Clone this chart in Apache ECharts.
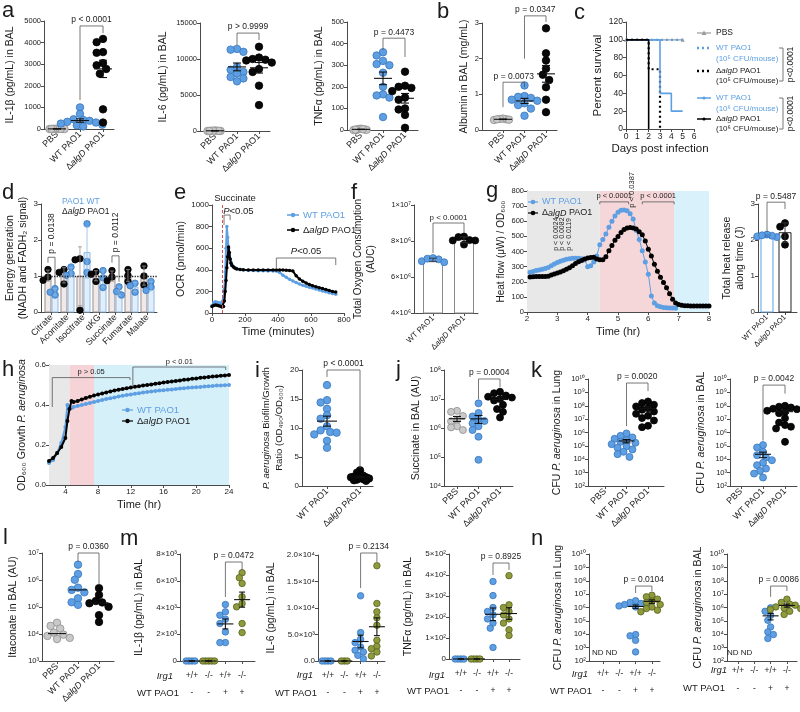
<!DOCTYPE html>
<html><head><meta charset="utf-8"><title>Figure</title>
<script src="https://cdn.jsdelivr.net/npm/echarts@6.0.0/dist/echarts.min.js"></script>
<style>html,body{margin:0;padding:0;background:#fff;}#chart{width:800px;height:712px;}</style>
</head><body><div id="chart"></div>
<script>
// ===================== DATA =====================
const catsPAO = ['PBS', 'WT PAO1', 'Δ{i|algD} PAO1'];
const catsWTalg = ['WT PAO1', 'Δ{i|algD} PAO1'];
const irg1Row = ['+/+', '-/-', '+/+', '-/-'];
const pao1Row = ['-', '-', '+', '+'];

// a
const il1bPBS = [8, 3, 12, 0, 6, 10, 2, 7, 5];
const il1bWT = [1000, 700, 450, 420, 380, 330, 300, 250, 200, 170, 120];
const il1bAlgD = [4170, 4020, 3560, 3530, 3050, 2950, 2780, 2560, 910, 300];
const il6PBS = [30, 60, 10, 0, 40, 20, 50, 15];
const il6WT = [11400, 11300, 11000, 8900, 8500, 8200, 8000, 7500, 7300, 6900];
const il6AlgD = [11700, 10200, 10000, 9900, 9800, 9500, 8600, 8200, 6300, 3600];
const tnfPBS = [2, 5, 1, 0, 3, 6, 2, 4];
const tnfWT = [360, 345, 320, 305, 300, 265, 200, 165, 160, 150, 60];
const tnfAlgD = [270, 205, 200, 195, 180, 150, 140, 100, 95, 70, 10];
// b
const albPBS = [0.28, 0.30, 0.32, 0.29, 0.31, 0.30];
const albWT = [1.25, 0.95, 0.93, 0.90, 0.85, 0.82, 0.75, 0.70, 0.60, 0.40];
const albAlgD = [2.85, 2.15, 1.95, 1.72, 1.55, 1.40, 1.20, 0.85, 0.50];
// c survival (day of event, percent after event)
const survPBSDay = [0, 5], survPBSPct = [100, 100];
const survWT5Day = [0, 5], survWT5Pct = [100, 100];
const survAlg5Day = [0, 2, 3], survAlg5Pct = [100, 67, 0];
const survWT6Day = [0, 3, 4, 5], survWT6Pct = [100, 40, 20, 20];
const survAlg6Day = [0, 2], survAlg6Pct = [100, 0];
// d
const tcaCats = ['Citrate', 'Aconitate', 'Isocitrate', 'αKG', 'Succinate', 'Fumarate', 'Malate'];
const tcaAlgD = [[1.18, 0.97, 0.88], [1.18, 1.10, 0.78], [1.48, 1.45, 0.05], [1.12, 1.05, 0.85], [1.15, 0.97, 0.87], [1.18, 1.02, 0.85], [1.28, 1.00, 0.75]];
const tcaWT = [[0.65, 0.55, 0.47], [1.25, 1.07, 1.02], [2.45, 1.40, 1.10], [1.15, 0.95, 0.68], [0.70, 0.57, 0.47], [0.80, 0.73, 0.55], [0.85, 0.70, 0.60]];
// e
const ocrTime = [0, 10, 20, 30, 40, 50, 60, 70, 75, 80, 85, 90, 95, 100, 105, 110, 115, 120, 130, 140, 150, 170, 190, 220, 250, 280, 310, 340, 370, 390, 410, 430, 450, 470, 490, 510, 530, 550, 570, 590, 610, 630, 650, 670, 690, 710, 730, 750];
const ocrWT = [70, 95, 105, 100, 95, 90, 85, 130, 220, 380, 600, 800, 700, 600, 540, 500, 470, 450, 430, 418, 410, 402, 398, 395, 393, 392, 391, 390, 390, 388, 375, 350, 330, 312, 297, 282, 268, 256, 247, 239, 231, 223, 212, 204, 197, 188, 180, 173];
const ocrAlgD = [60, 70, 75, 72, 68, 62, 55, 60, 110, 200, 300, 420, 520, 610, 560, 500, 460, 440, 425, 415, 408, 402, 400, 399, 399, 398, 398, 398, 398, 398, 398, 397, 396, 394, 388, 345, 315, 295, 278, 264, 252, 242, 234, 226, 217, 208, 200, 194];
// f
const oxyWT = [6.88e6, 7.02e6, 7.05e6, 6.98e6, 6.82e6];
const oxyAlgD = [8.25e6, 8.22e6, 7.80e6, 8.05e6, 8.03e6, 8.03e6];
// g
const heatTime = [2.1, 2.2, 2.3, 2.4, 2.5, 2.6, 2.7, 2.8, 2.9, 3.0, 3.1, 3.2, 3.3, 3.4, 3.5, 3.6, 3.7, 3.8, 3.9, 4.0, 4.1, 4.2, 4.3, 4.4, 4.5, 4.6, 4.7, 4.8, 4.9, 5.0, 5.1, 5.2, 5.3, 5.4, 5.5, 5.6, 5.7, 5.8, 5.9, 6.0, 6.1, 6.2, 6.3, 6.4, 6.5, 6.6, 6.7, 6.8, 6.9, 7.0, 7.1, 7.2, 7.3, 7.4, 7.5, 7.6, 7.7, 7.8, 7.9, 8.0];
const heatWT = [262, 268, 275, 278, 282, 288, 295, 305, 318, 328, 335, 342, 348, 352, 355, 356, 355, 352, 345, 300, 305, 330, 370, 445, 480, 515, 560, 600, 635, 660, 672, 675, 670, 650, 615, 540, 480, 405, 330, 250, 105, 60, 42, 35, 30, 28, 27, 26, 25];
const heatAlgD = [232, 233, 234, 234, 234, 235, 236, 245, 252, 258, 265, 272, 282, 292, 305, 320, 332, 340, 350, 357, 360, 362, 350, 346, 345, 365, 405, 440, 475, 500, 525, 545, 555, 558, 556, 548, 530, 510, 470, 415, 370, 315, 270, 230, 195, 160, 120, 85, 60, 50, 45, 42, 41, 40, 40, 40, 40, 40, 40, 40];
const heatTotWT = [2.08, 2.10, 2.12, 2.15, 2.13];
const heatTotAlgD = [2.47, 2.37, 2.10, 1.87];
// h
const growthTime = [2, 2.5, 3, 3.5, 4, 4.25, 4.5, 4.75, 5, 5.5, 6, 6.5, 7, 7.5, 8, 8.5, 9, 9.5, 10, 10.5, 11, 11.5, 12, 12.5, 13, 13.5, 14, 14.5, 15, 15.5, 16, 16.5, 17, 17.5, 18, 18.5, 19, 19.5, 20, 20.5, 21, 21.5, 22, 22.5, 23, 23.5, 24];
const growthWT = [0.11, 0.125, 0.16, 0.21, 0.29, 0.40, 0.385, 0.385, 0.39, 0.395, 0.40, 0.405, 0.41, 0.415, 0.42, 0.425, 0.43, 0.434, 0.438, 0.442, 0.446, 0.45, 0.453, 0.456, 0.459, 0.462, 0.465, 0.467, 0.47, 0.472, 0.474, 0.476, 0.478, 0.48, 0.482, 0.484, 0.486, 0.487, 0.489, 0.49, 0.492, 0.494, 0.495, 0.497, 0.498, 0.499, 0.50];
const growthAlgD = [0.12, 0.135, 0.16, 0.19, 0.235, 0.32, 0.38, 0.42, 0.415, 0.42, 0.428, 0.435, 0.441, 0.447, 0.453, 0.458, 0.463, 0.468, 0.472, 0.476, 0.48, 0.484, 0.488, 0.491, 0.494, 0.497, 0.50, 0.503, 0.506, 0.509, 0.512, 0.515, 0.518, 0.52, 0.523, 0.526, 0.528, 0.531, 0.533, 0.536, 0.538, 0.54, 0.542, 0.544, 0.546, 0.548, 0.55];
// i
const biofilmWT = [17.4, 14.8, 14.4, 13.3, 12.2, 11.6, 10.3, 9.6, 9.3, 9.2, 8.9, 7.8, 6.6];
const biofilmAlgD = [2.7, 2.3, 2.0, 1.8, 1.7, 1.6, 1.5, 1.5, 1.4, 1.3, 1.2, 1.1, 1.0, 0.9];
// j
const succPBS = [3.9e6, 3.6e6, 2.6e6, 1.9e6, 1.7e6, 1.15e6, 1.05e6, 0.85e6];
const succWT = [7.1e6, 3.3e6, 2.5e6, 2.0e6, 1.74e6, 1.45e6, 1.15e6, 0.85e6, 0.5e6, 0.08e6];
const succAlgD = [1.78e7, 1.58e7, 1.32e7, 1.2e7, 1.12e7, 1.0e7, 8.9e6, 6.3e6, 4.5e6, 3.6e6, 2.3e6];
// k
const cfuLungWT = [8.5e5, 5.6e5, 4.3e5, 3.4e5, 2.7e5, 2.0e5, 1.7e5, 1.35e5, 9.5e4, 7.2e4, 5.4e4, 3.6e4, 2.4e4, 1.5e4];
const cfuLungAlgD = [2.1e8, 1.6e8, 1.2e8, 8.9e7, 6.6e7, 5.0e7, 3.7e7, 2.5e7, 1.8e7, 1.2e7, 7.9e6, 3.2e6, 2.5e6];
const cfuBalWT = [1.15e5, 7.6e4, 3.6e4, 2.0e4, 1.35e4, 8.5e3, 5.4e3, 3.6e3, 2.0e3, 1.35e3, 850, 430];
const cfuBalAlgD = [1.0e8, 8.5e7, 7.4e7, 6.0e7, 5.5e7, 4.2e7, 3.5e7, 2.75e7, 1.17e7, 5.5e6, 3.6e6, 2.7e6, 2.0e6, 2.0e5];
// l
const itaPBS = [2.6e4, 2.0e4, 1.6e4, 1.12e4, 9.5e3, 8.5e3, 7.2e3, 6.5e3];
const itaWT = [3.7e6, 1.66e6, 1.02e6, 5.2e5, 4.3e5, 3.5e5, 2.1e5, 1.5e5, 1.2e5];
const itaAlgD = [5.0e5, 2.8e5, 1.66e5, 1.48e5, 1.38e5, 1.02e5, 5.0e4, 2.8e4];
// m
const mIl1bWTctl = [0, 0, 0, 0], mIl1bKOctl = [0, 0, 0, 0, 0];
const mIl1bWT = [4225, 3675, 3425, 3125, 2800, 2175, 1375, 1375];
const mIl1bKO = [6600, 6225, 5800, 4800, 4300, 4050, 2800, 2125];
const mIl6WTctl = [0, 0, 0, 0], mIl6KOctl = [0, 0, 0];
const mIl6WT = [12300, 5360, 4100, 3470, 2650, 2020, 1700, 1070, 440];
const mIl6KO = [17980, 10850, 9270, 8140, 6750, 3910, 2780, 2330, 1700, 950];
const mTnfWTctl = [0, 0, 0, 0], mTnfKOctl = [0, 0, 0, 0];
const mTnfWT = [369, 302, 245, 226, 210, 191, 171, 147, 55];
const mTnfKO = [397, 258, 245, 226, 210, 191, 171, 139, 112];
// n
const nLungWT = [3.2e6, 2.4e6, 2.0e6, 1.66e6, 1.5e6, 1.3e6, 1.1e6, 9.5e3, 7.6e3, 3.5e3, 480];
const nLungKO = [8.3e6, 6.3e6, 4.2e6, 3.0e6, 2.4e6, 1.66e6, 1.1e6, 8.3e5, 6.3e5, 4.8e5];
const nBalWT = [9.5e5, 5.2e5, 2.6e5, 1.1e5, 3.5e4, 1.5e4, 9.5e3, 4.8e3];
const nBalKO = [4.2e6, 2.4e6, 1.8e6, 1.5e6, 1.1e6, 9.0e5, 8.3e5, 7.0e5, 5.2e5, 3.0e5];

// ===================== STYLE / HELPERS =====================
const FONT = "'Liberation Sans', Arial, Helvetica, sans-serif";
const TXT = '#1b1b1b', AXC = '#4a4a4a';
const BLUE = ['#5d9fe2', '#3a76bd'], GREY = ['#c9c9c9', '#8e8e8e'], BLACK = ['#080808', '#000'], OLIVE = ['#8e9a3c', '#59621f'];

const opt = {animation: false, backgroundColor: '#fff', textStyle: {fontFamily: FONT}, grid: [], xAxis: [], yAxis: [], series: [], graphic: []};

const mean = a => a.reduce((s, v) => s + v, 0) / a.length;
const sd = a => { const m = mean(a); return Math.sqrt(a.reduce((s, v) => s + (v - m) * (v - m), 0) / (a.length - 1)); };
const sem = a => sd(a) / Math.sqrt(a.length);
const median = a => { const s = [...a].sort((x, y) => x - y); const n = s.length; return n % 2 ? s[(n - 1) / 2] : (s[n / 2 - 1] + s[n / 2]) / 2; };
const richI = fs => ({i: {fontStyle: 'italic', fontSize: fs, fontFamily: FONT, color: TXT}});
const SUP = {'0': '⁰', '1': '¹', '2': '²', '3': '³', '4': '⁴', '5': '⁵', '6': '⁶', '7': '⁷', '8': '⁸', '9': '⁹', '-': '⁻'};
const sup = n => String(n).split('').map(c => SUP[c]).join('');
const fmtPow = v => '10' + sup(Math.round(Math.log10(v)));
const fmtSci = dec => v => { if (v === 0) return dec ? (0).toFixed(dec) : '0'; const e = Math.floor(Math.log10(v) + 1e-9); const m = v / Math.pow(10, e); return (dec ? m.toFixed(dec) : String(Math.round(m))) + '×10' + sup(e); };
const fmtPlain = v => String(+v.toFixed(6));
const zip = (xs, ys) => ys.map((v, i) => [xs[i], v]);

function addGrid(L, xa, ya) {
  const gi = opt.grid.length;
  opt.grid.push({left: L.left, top: L.top, width: L.right - L.left, height: L.bottom - L.top});
  xa.gridIndex = gi; ya.gridIndex = gi;
  opt.xAxis.push(xa); opt.yAxis.push(ya);
  return {xi: opt.xAxis.length - 1, yi: opt.yAxis.length - 1};
}
function xCat(L, labels, o) {
  o = o || {};
  const xmin = -(L.c0 - L.left) / L.step, xmax = xmin + (L.right - L.left) / L.step;
  const idx = labels.map((_, i) => i);
  const fs = o.fs || 9;
  return {type: 'value', min: xmin, max: xmax, splitLine: {show: false},
    axisLine: {show: true, onZero: false, lineStyle: {color: AXC, width: 1}},
    axisTick: {show: true, customValues: idx, length: 3, lineStyle: {color: AXC}},
    axisLabel: {show: true, customValues: idx, formatter: v => labels[Math.round(v)],
      rotate: o.rotate === undefined ? 45 : o.rotate, fontSize: fs, color: TXT,
      margin: o.margin === undefined ? 4 : o.margin, lineHeight: o.lh || Math.round(fs * 1.2), rich: richI(fs)}};
}
function xNum(o) {
  const a = {type: 'value', min: o.min, max: o.max, splitLine: {show: false},
    axisLine: {show: true, onZero: false, lineStyle: {color: AXC}},
    axisTick: {show: true, length: 3, lineStyle: {color: AXC}},
    axisLabel: {fontSize: o.fs || 8, color: TXT, margin: 3, formatter: fmtPlain, showMinLabel: true, showMaxLabel: true},
    name: o.name, nameLocation: 'middle', nameGap: o.gap, nameTextStyle: {fontSize: o.nfs || 11, color: TXT}};
  if (o.cv) { a.axisTick.customValues = o.cv; a.axisLabel.customValues = o.cv; } else a.interval = o.interval;
  return a;
}
function yAx(y) {
  const nfs = y.nfs || 10;
  const c = {type: y.log ? 'log' : 'value', min: y.min, max: y.max, splitLine: {show: false},
    axisLine: {show: true, onZero: false, lineStyle: {color: AXC, width: 1}},
    axisTick: {show: true, length: 3, lineStyle: {color: AXC}},
    axisLabel: {fontSize: y.fs || 7.5, color: TXT, margin: 3, formatter: y.fmt || (y.log ? fmtPow : fmtPlain), showMinLabel: true, showMaxLabel: true},
    name: y.name, nameLocation: 'middle', nameRotate: 90, nameGap: y.gap,
    nameTextStyle: {fontSize: nfs, color: TXT, lineHeight: y.lh || Math.round(nfs * 1.25), rich: richI(nfs)}};
  if (y.log) { c.logBase = 10; c.splitNumber = Math.round(Math.log10(y.max / y.min)); } else c.interval = y.interval;
  return c;
}
function swarm(vals, yPx, d, step) {
  const order = vals.map((_, i) => i).sort((a, b) => vals[b] - vals[a]);
  const placed = [], off = new Array(vals.length);
  const inc = d * 0.5;
  for (const i of order) {
    const y = yPx(vals[i]);
    let dx = 0;
    for (let k = 0; k < 80; k++) {
      const c = (k % 2 === 1 ? -1 : 1) * Math.ceil(k / 2) * inc;
      if (placed.every(p => Math.hypot(p.x - c, p.y - y) >= d)) { dx = c; break; }
    }
    placed.push({x: dx, y}); off[i] = dx / step;
  }
  return off;
}
function statSeries(xi, yi, items, o) {
  opt.series.push({type: 'custom', xAxisIndex: xi, yAxisIndex: yi, z: 6, silent: true, clip: false,
    data: items.map(it => [it.x, it.m]),
    renderItem: (p, api) => {
      const it = items[p.dataIndex];
      const pm = api.coord([it.x, it.m]);
      const st = {stroke: it.color || o.color || '#111', lineWidth: o.lw || 1.1};
      const ch = [];
      if (o.mw) ch.push({type: 'line', shape: {x1: pm[0] - o.mw, y1: pm[1], x2: pm[0] + o.mw, y2: pm[1]}, style: st});
      if (it.hi !== undefined) {
        const ph = api.coord([it.x, it.hi]), pl = api.coord([it.x, it.lo]);
        ch.push({type: 'line', shape: {x1: pm[0], y1: pl[1], x2: pm[0], y2: ph[1]}, style: st});
        ch.push({type: 'line', shape: {x1: pm[0] - o.cw, y1: ph[1], x2: pm[0] + o.cw, y2: ph[1]}, style: st});
        ch.push({type: 'line', shape: {x1: pm[0] - o.cw, y1: pl[1], x2: pm[0] + o.cw, y2: pl[1]}, style: st});
      }
      return {type: 'group', children: ch};
    }});
}
function txtStyle(t, fs, color, align, va, rich, italic) {
  return {text: t, fontSize: fs, fontFamily: FONT, fill: color, align: align, verticalAlign: va, textAlign: align, textVerticalAlign: va, rich: rich, fontStyle: italic ? 'italic' : 'normal'};
}
function bracketSeries(xi, yi, list) {
  opt.series.push({type: 'custom', xAxisIndex: xi, yAxisIndex: yi, z: 7, silent: true, clip: false,
    data: list.map(b => [b.x1, b.yt]),
    renderItem: (p, api) => {
      const b = list[p.dataIndex];
      const a = api.coord([b.x1, b.y1]), t1 = api.coord([b.x1, b.yt]), t2 = api.coord([b.x2, b.yt]), c = api.coord([b.x2, b.y2]);
      const ch = [{type: 'polyline', shape: {points: [a, t1, t2, c]}, style: {stroke: '#555', lineWidth: 0.8, fill: 'none'}}];
      if (b.t) {
        if (b.vert) {
          const tp = api.coord([b.tx, b.ty]);
          ch.push({type: 'text', x: tp[0], y: tp[1], rotation: Math.PI / 2, style: txtStyle(b.t, b.fs || 8.5, TXT, 'left', 'middle')});
        } else {
          ch.push({type: 'text', x: (t1[0] + t2[0]) / 2, y: t1[1] - 1.5, style: txtStyle(b.t, b.fs || 8.5, TXT, 'center', 'bottom', richI(b.fs || 8.5))});
        }
      }
      return {type: 'group', children: ch};
    }});
}
function textSeries(xi, yi, list) {
  opt.series.push({type: 'custom', xAxisIndex: xi, yAxisIndex: yi, z: 8, silent: true, clip: false,
    data: list.map(t => [t.x, t.y]),
    renderItem: (p, api) => {
      const t = list[p.dataIndex]; const q = api.coord([t.x, t.y]);
      return {type: 'text', x: q[0], y: q[1], rotation: t.rot || 0, style: txtStyle(t.t, t.fs || 8.5, t.color || TXT, t.align || 'center', t.va || 'middle', richI(t.fs || 8.5))};
    }});
}
function barSeries(xi, yi, list, base) {
  opt.series.push({type: 'custom', xAxisIndex: xi, yAxisIndex: yi, z: 2, silent: true,
    data: list.map(b => [b.x, b.v]),
    renderItem: (p, api) => {
      const b = list[p.dataIndex]; const t = api.coord([b.x, b.v]), o = api.coord([b.x, base]);
      return {type: 'rect', shape: {x: t[0] - b.w / 2, y: t[1], width: b.w, height: o[1] - t[1]}, style: {fill: b.fill, stroke: b.stroke, lineWidth: 1}};
    }});
}
function scatterSeries(xi, yi, vals, x, off, c, ds, z) {
  opt.series.push({type: 'scatter', xAxisIndex: xi, yAxisIndex: yi, symbolSize: ds, silent: true, z: z || 3, clip: false,
    data: vals.map((v, j) => [x + off[j], v]),
    itemStyle: {color: c[0], borderColor: c[1], borderWidth: 0.8, opacity: 1}});
}
function dotPanel(s) {
  const L = s.L;
  const {xi, yi} = addGrid(L, xCat(L, s.labels, s.xo), yAx(s.y));
  const H = L.bottom - L.top;
  const lmin = s.y.log ? Math.log10(s.y.min) : 0, lmax = s.y.log ? Math.log10(s.y.max) : 0;
  const yPx = s.y.log ? v => (Math.log10(v) - lmin) / (lmax - lmin) * H : v => (v - s.y.min) / (s.y.max - s.y.min) * H;
  const ds = s.ds || 7;
  const stats = [];
  s.groups.forEach(g => {
    if (!g.vals.length) return;
    const off = swarm(g.vals, yPx, ds * (g.ov || s.ov || 0.85), L.step);
    scatterSeries(xi, yi, g.vals, g.x, off, g.c, ds);
    if (s.stat === 'median') stats.push({x: g.x, m: median(g.vals)});
    else if (s.stat !== 'none') {
      const m = mean(g.vals), e = sem(g.vals);
      stats.push({x: g.x, m: m, lo: s.y.log ? Math.max(m - e, s.y.min) : m - e, hi: m + e});
    }
  });
  if (stats.length) statSeries(xi, yi, stats, {mw: s.mw || 8, cw: s.cw || 4});
  if (s.br) bracketSeries(xi, yi, s.br);
  if (s.txt) textSeries(xi, yi, s.txt);
  return {xi, yi};
}
function barDotPanel(s) {
  const L = s.L;
  const {xi, yi} = addGrid(L, xCat(L, s.labels, s.xo), yAx(s.y));
  const H = L.bottom - L.top; const yPx = v => (v - s.y.min) / (s.y.max - s.y.min) * H;
  const bl = [], er = [];
  s.groups.forEach(g => {
    const m = mean(g.vals), e = sd(g.vals);
    bl.push({x: g.x, v: m, w: s.bw, fill: g.fill, stroke: g.stroke});
    er.push({x: g.x, m: m, lo: m - e, hi: m + e, color: g.ec || '#333'});
    const off = swarm(g.vals, yPx, s.ds * (s.ov || 0.8), L.step);
    scatterSeries(xi, yi, g.vals, g.x, off, g.c, s.ds, 4);
  });
  barSeries(xi, yi, bl, s.y.min);
  statSeries(xi, yi, er, {mw: 0, cw: s.cw || 4, lw: 0.9});
  if (s.br) bracketSeries(xi, yi, s.br);
  return {xi, yi};
}
const G = opt.graphic;
function gtext(x, y, t, o) {
  o = o || {};
  G.push({type: 'text', x: x, y: y, rotation: o.rot || 0, z: 10, style: Object.assign(txtStyle(t, o.fs || 9, o.color || TXT, o.align || 'left', o.va || 'middle', richI(o.fs || 9), o.italic), {lineHeight: o.lh})});
}
function gline(x1, y1, x2, y2, color, w, dash) {
  G.push({type: 'line', z: 10, shape: {x1, y1, x2, y2}, style: {stroke: color, lineWidth: w || 1, lineDash: dash || null}});
}
function gdot(cx, cy, r, color) { G.push({type: 'circle', z: 10, shape: {cx, cy, r}, style: {fill: color}}); }

// ===================== PANELS =====================
// a
dotPanel({L: {left: 44, right: 114, top: 21, bottom: 129, c0: 57, step: 23}, labels: catsPAO,
  y: {min: 0, max: 5000, interval: 1000, name: 'IL-1β (pg/mL) in BAL', gap: 27, nfs: 10.5},
  groups: [{x: 0, vals: il1bPBS, c: GREY, ov: 0.25}, {x: 1, vals: il1bWT, c: BLUE}, {x: 2, vals: il1bAlgD, c: BLACK}],
  stat: 'mean', ds: 7.5, mw: 9,
  br: [{x1: 1, y1: 1340, x2: 2, y2: 4440, yt: 4770, t: 'p < 0.0001'}]});
dotPanel({L: {left: 200, right: 270, top: 23, bottom: 131, c0: 215, step: 22}, labels: catsPAO,
  y: {min: 0, max: 15000, interval: 5000, name: 'IL-6 (pg/mL) in BAL', gap: 30, nfs: 10.5},
  groups: [{x: 0, vals: il6PBS, c: GREY, ov: 0.25}, {x: 1, vals: il6WT, c: BLUE}, {x: 2, vals: il6AlgD, c: BLACK}],
  stat: 'mean', ds: 7.5, mw: 9,
  br: [{x1: 1, y1: 11940, x2: 2, y2: 12640, yt: 13600, t: 'p > 0.9999'}]});
dotPanel({L: {left: 347, right: 418, top: 22, bottom: 130, c0: 361, step: 22}, labels: catsPAO,
  y: {min: 0, max: 500, interval: 100, name: 'TNFα (pg/mL) in BAL', gap: 21, nfs: 10.5},
  groups: [{x: 0, vals: tnfPBS, c: GREY, ov: 0.25}, {x: 1, vals: tnfWT, c: BLUE}, {x: 2, vals: tnfAlgD, c: BLACK}],
  stat: 'mean', ds: 7.5, mw: 9,
  br: [{x1: 1, y1: 370, x2: 2, y2: 338, yt: 425, t: 'p = 0.4473'}]});
// b
dotPanel({L: {left: 482, right: 557, top: 23, bottom: 130, c0: 503, step: 21.5}, labels: catsPAO,
  y: {min: 0, max: 3, interval: 1, name: 'Albumin in BAL (mg/mL)', gap: 9, nfs: 10.5},
  groups: [{x: 0, vals: albPBS, c: GREY, ov: 0.4}, {x: 1, vals: albWT, c: BLUE}, {x: 2, vals: albAlgD, c: BLACK}],
  stat: 'mean', ds: 7.5, mw: 9,
  br: [{x1: 0, y1: 0.64, x2: 1, y2: 1.2, yt: 1.34, t: 'p = 0.0073'}, {x1: 1, y1: 2.0, x2: 2, y2: 3.03, yt: 3.2, t: 'p = 0.0347'}]});

// c survival
(function () {
  const {xi, yi} = addGrid({left: 626, right: 694, top: 22, bottom: 129},
    xNum({min: 0, max: 6, interval: 1, fs: 8.5, name: 'Days post infection', gap: 14, nfs: 11.5}),
    yAx({min: 0, max: 120, interval: 20, name: 'Percent survival', gap: 19, nfs: 11.5, fs: 8.5}));
  const base = {type: 'line', xAxisIndex: xi, yAxisIndex: yi, step: 'end', silent: true, clip: false};
  opt.series.push(
    Object.assign({}, base, {data: zip(survPBSDay, survPBSPct), symbol: 'triangle', symbolSize: 4, lineStyle: {color: '#9a9a9a', width: 1.2}, itemStyle: {color: '#9a9a9a'}, z: 2}),
    Object.assign({}, base, {data: zip(survWT5Day, survWT5Pct), symbol: 'none', lineStyle: {color: BLUE[0], width: 2.2, type: [2, 3]}, z: 3}),
    Object.assign({}, base, {data: zip(survAlg5Day, survAlg5Pct), symbol: 'none', lineStyle: {color: '#000', width: 2.2, type: [2, 3]}, z: 3}),
    Object.assign({}, base, {data: zip(survWT6Day, survWT6Pct), symbol: 'none', lineStyle: {color: BLUE[0], width: 1.6}, z: 4}),
    Object.assign({}, base, {data: zip(survAlg6Day, survAlg6Pct), symbol: 'none', lineStyle: {color: '#000', width: 1.6}, z: 4})
  );
  // legend
  gline(697, 33, 711, 33, '#9a9a9a', 1.2); G.push({type: 'polygon', z: 10, shape: {points: [[704, 30.5], [706.5, 35], [701.5, 35]]}, style: {fill: '#9a9a9a'}});
  gtext(716, 33, 'PBS', {fs: 8.5});
  gline(697, 48, 711, 48, BLUE[0], 2.4, [2, 3]);
  gtext(716, 53.5, 'WT PAO1\n(10⁵ CFU/mouse)', {fs: 8, color: BLUE[0], lh: 11});
  gline(697, 71, 711, 71, '#000', 2.4, [2, 3]);
  gtext(716, 76, 'Δ{i|algD} PAO1\n(10⁵ CFU/mouse)', {fs: 8, lh: 10});
  gline(697, 98, 711, 98, BLUE[0], 1.5); gdot(704, 98, 1.6, BLUE[0]);
  gtext(716, 103.5, 'WT PAO1\n(10⁶ CFU/mouse)', {fs: 8, color: BLUE[0], lh: 11});
  gline(697, 119, 711, 119, '#000', 1.5); gdot(704, 119, 1.6, '#000');
  gtext(716, 124, 'Δ{i|algD} PAO1\n(10⁶ CFU/mouse)', {fs: 8, lh: 10});
  G.push({type: 'polyline', z: 10, shape: {points: [[779, 48], [783, 48], [783, 81], [779, 81]]}, style: {stroke: '#555', lineWidth: 0.8, fill: 'none'}});
  G.push({type: 'polyline', z: 10, shape: {points: [[779, 98], [783, 98], [783, 129], [779, 129]]}, style: {stroke: '#555', lineWidth: 0.8, fill: 'none'}});
  gtext(791, 64.5, 'p<0.0001', {fs: 8.5, rot: Math.PI / 2, align: 'center'});
  gtext(791, 113.5, 'p<0.0001', {fs: 8.5, rot: Math.PI / 2, align: 'center'});
})();

// d
(function () {
  const L = {left: 41, right: 157, top: 204, bottom: 312, c0: 51.5, step: 16};
  const {xi, yi} = addGrid(L, xCat(L, tcaCats, {fs: 9}),
    yAx({min: 0, max: 3, interval: 1, name: 'Energy generation\n(NADH and FADH₂ signal)', gap: 9, nfs: 10.5, lh: 13, fs: 8}));
  const H = L.bottom - L.top; const yPx = v => v / 3 * H;
  const bl = [], er = [];
  const addG = (vals, x, c, fill, stroke) => {
    const off = swarm(vals, yPx, 6.5 * 0.75, L.step);
    scatterSeries(xi, yi, vals, x, off, c, 6.5, 4);
    const m = mean(vals), e = sd(vals);
    bl.push({x: x, v: m, w: 6, fill: fill, stroke: stroke});
    er.push({x: x, m: m, lo: m - e, hi: m + e, color: stroke});
  };
  tcaCats.forEach((_, i) => { addG(tcaAlgD[i], i - 0.22, BLACK, '#efe9e9', '#9b8d8d'); addG(tcaWT[i], i + 0.22, BLUE, '#e4eefa', '#8dbbe6'); });
  barSeries(xi, yi, bl, 0);
  statSeries(xi, yi, er, {mw: 0, cw: 2, lw: 0.8});
  opt.series[opt.series.length - 1].markLine = {silent: true, symbol: 'none', label: {show: false}, lineStyle: {type: 'dotted', color: '#222', width: 1.3}, data: [{yAxis: 1}]};
  bracketSeries(xi, yi, [
    {x1: -0.22, y1: 1.37, x2: 0.22, y2: 0.75, yt: 1.52, t: 'p = 0.0138', vert: true, tx: 0, ty: 1.62, fs: 8.5},
    {x1: 3.78, y1: 1.37, x2: 4.22, y2: 0.84, yt: 1.56, t: 'p = 0.0112', vert: true, tx: 4, ty: 1.66, fs: 8.5}]);
  gtext(62, 202, 'PAO1 WT', {fs: 8.5, color: BLUE[0]});
  gtext(62, 212, 'Δ{i|algD} PAO1', {fs: 8.5});
})();

// e
(function () {
  const {xi, yi} = addGrid({left: 212, right: 344, top: 205, bottom: 313},
    xNum({min: 0, max: 800, interval: 200, name: 'Time (minutes)', gap: 13, nfs: 11}),
    yAx({min: 0, max: 1000, interval: 200, name: 'OCR (pmol/min)', gap: 22, nfs: 10.5, fs: 8}));
  opt.series.push({type: 'line', xAxisIndex: xi, yAxisIndex: yi, data: zip(ocrTime, ocrWT), symbol: 'circle', symbolSize: 3.5, silent: true,
    lineStyle: {color: BLUE[0], width: 2}, itemStyle: {color: BLUE[0]}, z: 3,
    markLine: {silent: true, symbol: 'none', label: {show: false}, lineStyle: {type: [3, 2], color: '#d9534f', width: 1}, data: [{xAxis: 65}]}});
  opt.series.push({type: 'line', xAxisIndex: xi, yAxisIndex: yi, data: zip(ocrTime, ocrAlgD), symbol: 'circle', symbolSize: 3.5, silent: true,
    lineStyle: {color: '#000', width: 2}, itemStyle: {color: '#000'}, z: 4});
  bracketSeries(xi, yi, [
    {x1: 73, y1: 815, x2: 110, y2: 860, yt: 907, t: ''},
    {x1: 390, y1: 417, x2: 750, y2: 444, yt: 509, t: '{i|P}<0.05', fs: 9.5}]);
  textSeries(xi, yi, [{x: 160, y: 945, t: '{i|P}<0.05', fs: 9.5}]);
  gtext(235, 198, 'Succinate', {fs: 9.5, align: 'center'});
  gline(287, 215, 299, 215, BLUE[0], 1.5); gdot(293, 215, 2.2, BLUE[0]);
  gtext(303, 215, 'WT PAO1', {fs: 9.5, color: BLUE[0]});
  gline(287, 230, 299, 230, '#000', 1.5); gdot(293, 230, 2.2, '#000');
  gtext(303, 230, 'Δ{i|algD} PAO1', {fs: 9.5});
})();

// f
barDotPanel({L: {left: 414, right: 478, top: 205, bottom: 313, c0: 433, step: 31}, labels: catsWTalg, xo: {fs: 8},
  y: {min: 4e6, max: 1e7, interval: 2e6, fmt: fmtSci(0), name: 'Total Oxygen Consumption\n(AUC)', gap: 36, nfs: 10, lh: 13},
  groups: [{x: 0, vals: oxyWT, c: BLUE, fill: '#fff', stroke: '#8a8a8a'}, {x: 1, vals: oxyAlgD, c: BLACK, fill: '#fff', stroke: '#8a8a8a'}],
  bw: 19, ds: 7, ov: 0.8, cw: 4,
  br: [{x1: 0, y1: 7.33e6, x2: 1, y2: 8.44e6, yt: 9.0e6, t: 'p < 0.0001', fs: 8}]});

// g
(function () {
  const {xi, yi} = addGrid({left: 527, right: 709, top: 191, bottom: 312},
    xNum({min: 2, max: 8, interval: 1, name: 'Time (hr)', gap: 14, nfs: 11}),
    yAx({min: 0, max: 800, interval: 100, name: 'Heat flow (μW) / OD₆₀₀', gap: 15, nfs: 10}));
  opt.series.push({type: 'line', xAxisIndex: xi, yAxisIndex: yi, data: zip(heatTime, heatWT), symbol: 'circle', symbolSize: 5, silent: true,
    lineStyle: {color: BLUE[0], width: 1}, itemStyle: {color: BLUE[0]}, z: 3,
    markArea: {silent: true, data: [
      [{xAxis: 2, itemStyle: {color: '#e8e8e8'}}, {xAxis: 4.4}],
      [{xAxis: 4.4, itemStyle: {color: '#f6d7d9'}}, {xAxis: 6.85}],
      [{xAxis: 6.85, itemStyle: {color: '#d8f1fa'}}, {xAxis: 8}]]}});
  opt.series.push({type: 'line', xAxisIndex: xi, yAxisIndex: yi, data: zip(heatTime, heatAlgD), symbol: 'circle', symbolSize: 5, silent: true,
    lineStyle: {color: '#000', width: 1}, itemStyle: {color: '#000'}, z: 4});
  bracketSeries(xi, yi, [
    {x1: 4.4, y1: 712, x2: 5.35, y2: 712, yt: 728, t: 'p < 0.0001', fs: 7.5},
    {x1: 5.8, y1: 712, x2: 6.85, y2: 712, yt: 728, t: 'p < 0.0001', fs: 7.5}]);
  textSeries(xi, yi, [
    {x: 5.45, y: 690, t: 'p < 0.0387', rot: Math.PI / 2, align: 'left', fs: 7.5},
    {x: 2.95, y: 405, t: 'p < 0.0024', rot: Math.PI / 2, align: 'left', fs: 7},
    {x: 3.17, y: 405, t: 'p < 0.0082', rot: Math.PI / 2, align: 'left', fs: 7},
    {x: 3.38, y: 405, t: 'p < 0.0119', rot: Math.PI / 2, align: 'left', fs: 7}]);
  gline(528, 202, 538, 202, BLUE[0], 1.2); gdot(533, 202, 2.3, BLUE[0]);
  gtext(542, 202, 'WT PAO1', {fs: 9, color: BLUE[0]});
  gline(528, 213, 538, 213, '#000', 1.2); gdot(533, 213, 2.3, '#000');
  gtext(542, 213, 'Δ{i|algD} PAO1', {fs: 9});
})();
barDotPanel({L: {left: 758, right: 797, top: 204, bottom: 312, c0: 767, step: 18}, labels: catsWTalg, xo: {fs: 7.5},
  y: {min: 0, max: 3, interval: 1, name: 'Total heat release\nalong time (J)', gap: 10, nfs: 10.5, lh: 13, fs: 8},
  groups: [{x: 0, vals: heatTotWT, c: BLUE, fill: '#fff', stroke: BLUE[0], ec: BLUE[1]}, {x: 1, vals: heatTotAlgD, c: BLACK, fill: '#fff', stroke: '#222'}],
  bw: 12, ds: 7, ov: 0.7, cw: 3,
  br: [{x1: 0, y1: 2.22, x2: 1, y2: 2.86, yt: 3.05, t: 'p = 0.5487', fs: 8.5}]});

// h
(function () {
  const {xi, yi} = addGrid({left: 49, right: 229, top: 365, bottom: 485},
    xNum({min: 2, max: 24, cv: [4, 8, 12, 16, 20, 24], name: 'Time (hr)', gap: 14, nfs: 11}),
    yAx({min: 0, max: 0.6, interval: 0.2, fmt: v => v.toFixed(1), name: 'OD₆₀₀ Growth {i|P. aeruginosa}', gap: 20, nfs: 10.5, fs: 8}));
  opt.series.push({type: 'line', xAxisIndex: xi, yAxisIndex: yi, data: zip(growthTime, growthWT), symbol: 'circle', symbolSize: 4, silent: true,
    lineStyle: {color: BLUE[0], width: 2}, itemStyle: {color: BLUE[0]}, z: 3,
    markArea: {silent: true, data: [
      [{xAxis: 2, itemStyle: {color: '#e8e8e8'}}, {xAxis: 4.5}],
      [{xAxis: 4.5, itemStyle: {color: '#f6d3d6'}}, {xAxis: 7.5}],
      [{xAxis: 7.5, itemStyle: {color: '#d6f0fa'}}, {xAxis: 24}]]}});
  opt.series.push({type: 'line', xAxisIndex: xi, yAxisIndex: yi, data: zip(growthTime, growthAlgD), symbol: 'circle', symbolSize: 4, silent: true,
    lineStyle: {color: '#000', width: 2}, itemStyle: {color: '#000'}, z: 4});
  bracketSeries(xi, yi, [
    {x1: 2.4, y1: 0.39, x2: 11.9, y2: 0.525, yt: 0.537, t: 'p > 0.05', fs: 7.5},
    {x1: 12.25, y1: 0.49, x2: 23.6, y2: 0.575, yt: 0.59, t: 'p < 0.01', fs: 7.5}]);
  gline(122, 410, 133, 410, BLUE[0], 1.2); gdot(127.5, 410, 2.2, BLUE[0]);
  gtext(137, 410, 'WT PAO1', {fs: 9.5, color: BLUE[0]});
  gline(122, 421, 133, 421, '#000', 1.2); gdot(127.5, 421, 2.2, '#000');
  gtext(137, 421, 'Δ{i|algD} PAO1', {fs: 9.5});
})();
// i
dotPanel({L: {left: 302, right: 373, top: 370, bottom: 486, c0: 327, step: 33}, labels: catsWTalg,
  y: {min: 0, max: 20, interval: 5, name: '{i|P. aeruginosa} Biofilm/Growth\nRatio (OD₄₉₀/OD₆₀₀)', gap: 12, nfs: 9.5, lh: 13, fs: 8},
  groups: [{x: 0, vals: biofilmWT, c: BLUE}, {x: 1, vals: biofilmAlgD, c: BLACK, ov: 0.4}],
  stat: 'mean', ds: 7.5, mw: 10,
  br: [{x1: 0, y1: 18.8, x2: 1, y2: 3.1, yt: 20, t: 'p < 0.0001'}]});
// j
dotPanel({L: {left: 444, right: 513, top: 370, bottom: 486, c0: 457, step: 21.5}, labels: catsPAO,
  y: {log: true, min: 1e4, max: 1e8, name: 'Succinate in BAL (AU)', gap: 21, nfs: 10.5},
  groups: [{x: 0, vals: succPBS, c: GREY}, {x: 1, vals: succWT, c: BLUE}, {x: 2, vals: succAlgD, c: BLACK}],
  stat: 'mean', ds: 7, mw: 8,
  br: [{x1: 1, y1: 1e7, x2: 2, y2: 2.57e7, yt: 4.9e7, t: 'p = 0.0004'}]});
// k
dotPanel({L: {left: 588, right: 664, top: 379, bottom: 486, c0: 605, step: 21.5}, labels: catsPAO,
  y: {log: true, min: 1e2, max: 1e10, name: 'CFU {i|P. aeruginosa} in Lung', gap: 24, nfs: 10.5},
  groups: [{x: 0, vals: [], c: GREY}, {x: 1, vals: cfuLungWT, c: BLUE}, {x: 2, vals: cfuLungAlgD, c: BLACK}],
  stat: 'mean', ds: 7, mw: 8,
  br: [{x1: 1, y1: 3e6, x2: 2, y2: 1.26e9, yt: 5e9, t: 'p = 0.0020'}]});
dotPanel({L: {left: 730, right: 797, top: 379, bottom: 486, c0: 741, step: 22}, labels: catsPAO,
  y: {log: true, min: 1e2, max: 1e10, name: 'CFU {i|P. aeruginosa} in BAL', gap: 22, nfs: 10.5},
  groups: [{x: 0, vals: [], c: GREY}, {x: 1, vals: cfuBalWT, c: BLUE}, {x: 2, vals: cfuBalAlgD, c: BLACK}],
  stat: 'mean', ds: 7, mw: 8,
  br: [{x1: 1, y1: 2.5e5, x2: 2, y2: 8e8, yt: 3.5e9, t: 'p = 0.0042'}]});
// l
dotPanel({L: {left: 42, right: 114, top: 553, bottom: 661, c0: 57, step: 21}, labels: catsPAO,
  y: {log: true, min: 1e3, max: 1e7, name: 'Itaconate in BAL (AU)', gap: 22, nfs: 10.5},
  groups: [{x: 0, vals: itaPBS, c: GREY}, {x: 1, vals: itaWT, c: BLUE}, {x: 2, vals: itaAlgD, c: BLACK}],
  stat: 'median', ds: 7.5, mw: 9,
  br: [{x1: 1, y1: 4.7e6, x2: 2, y2: 6.5e5, yt: 1e7, t: 'p = 0.0360'}]});
// m
const irgLabels = irg1Row.map((v, i) => v + '\n' + pao1Row[i]);
dotPanel({L: {left: 180, right: 255, top: 554, bottom: 661, c0: 192, step: 16.7}, labels: irgLabels, xo: {rotate: 0, margin: 6, lh: 17, fs: 8.5},
  y: {min: 0, max: 8000, interval: 2000, fmt: fmtSci(0), name: 'IL-1β (pg/mL) in BAL', gap: 34, nfs: 10.5, fs: 8},
  groups: [{x: 0, vals: mIl1bWTctl, c: BLUE, ov: 0.45}, {x: 1, vals: mIl1bKOctl, c: OLIVE, ov: 0.45}, {x: 2, vals: mIl1bWT, c: BLUE}, {x: 3, vals: mIl1bKO, c: OLIVE}],
  stat: 'mean', ds: 6.5, mw: 8, cw: 3,
  br: [{x1: 2, y1: 4785, x2: 3, y2: 6800, yt: 7400, t: 'p = 0.0472'}]});
dotPanel({L: {left: 318, right: 385, top: 555, bottom: 661, c0: 328, step: 16.3}, labels: irgLabels, xo: {rotate: 0, margin: 6, lh: 17, fs: 8.5},
  y: {min: 0, max: 20000, interval: 5000, fmt: fmtSci(1), name: 'IL-6 (pg/mL) in BAL', gap: 40, nfs: 10.5, fs: 8},
  groups: [{x: 0, vals: mIl6WTctl, c: BLUE, ov: 0.45}, {x: 1, vals: mIl6KOctl, c: OLIVE, ov: 0.45}, {x: 2, vals: mIl6WT, c: BLUE}, {x: 3, vals: mIl6KO, c: OLIVE}],
  stat: 'mean', ds: 6.5, mw: 8, cw: 3,
  br: [{x1: 2, y1: 13770, x2: 3, y2: 18680, yt: 20377, t: 'p = 0.2134'}]});
dotPanel({L: {left: 449, right: 520, top: 554, bottom: 659, c0: 461, step: 16}, labels: irgLabels, xo: {rotate: 0, margin: 6, lh: 17, fs: 8.5},
  y: {min: 0, max: 500, interval: 100, fmt: fmtSci(0), name: 'TNFα (pg/mL) in BAL', gap: 34, nfs: 10.5, fs: 8},
  groups: [{x: 0, vals: mTnfWTctl, c: BLUE, ov: 0.45}, {x: 1, vals: mTnfKOctl, c: OLIVE, ov: 0.45}, {x: 2, vals: mTnfWT, c: BLUE}, {x: 3, vals: mTnfKO, c: OLIVE}],
  stat: 'mean', ds: 6.5, mw: 8, cw: 3,
  br: [{x1: 2, y1: 400, x2: 3, y2: 424, yt: 457, t: 'p = 0.8925'}]});
// n
dotPanel({L: {left: 589, right: 660, top: 554, bottom: 661, c0: 603, step: 16.3}, labels: irgLabels, xo: {rotate: 0, margin: 4, lh: 17, fs: 8.5},
  y: {log: true, min: 1e2, max: 1e10, name: 'CFU {i|P. aeruginosa} in Lung', gap: 24, fs: 8, nfs: 10.5},
  groups: [{x: 2, vals: nLungWT, c: BLUE}, {x: 3, vals: nLungKO, c: OLIVE}],
  stat: 'mean', ds: 6.5, mw: 8, cw: 3,
  br: [{x1: 2, y1: 1.2e7, x2: 3, y2: 1.7e7, yt: 4e7, t: 'p = 0.0104'}],
  txt: [{x: 0.1, y: 400, t: 'ND ND', fs: 8}]});
dotPanel({L: {left: 727, right: 797, top: 554, bottom: 661, c0: 738, step: 16.3}, labels: irgLabels, xo: {rotate: 0, margin: 1, lh: 18, fs: 8.5},
  y: {log: true, min: 1e2, max: 1e10, name: 'CFU {i|P. aeruginosa} in BAL', gap: 22, fs: 8, nfs: 10.5},
  groups: [{x: 2, vals: nBalWT, c: BLUE}, {x: 3, vals: nBalKO, c: OLIVE}],
  stat: 'mean', ds: 6.5, mw: 8, cw: 3,
  br: [{x1: 2, y1: 6.3e6, x2: 3, y2: 1.7e7, yt: 4e7, t: 'p = 0.0086'}],
  txt: [{x: 0.1, y: 400, t: 'ND ND', fs: 8}]});

// Irg1 / WT PAO1 row headers
[[173, 676, 179, 693], [313, 675, 317, 693], [445, 675, 449, 691], [588, 674, 592, 691], [727, 670, 725, 688]].forEach(r => {
  gtext(r[0], r[1], 'Irg1', {fs: 9.5, align: 'right', italic: true});
  gtext(r[2], r[3], 'WT PAO1', {fs: 9.5, align: 'right'});
});
// panel letters
[['a', 2, 0], ['b', 437, 1], ['c', 574, 2], ['d', 2, 182], ['e', 174, 182], ['f', 351, 182], ['g', 486, 180], ['h', 2, 359], ['i', 255, 360], ['j', 396, 359], ['k', 531, 360], ['l', 3, 527], ['m', 120, 528], ['n', 531, 528]]
  .forEach(p => gtext(p[1], p[2], p[0], {fs: 22, va: 'top'}));

const chart = echarts.init(document.getElementById('chart'), null, {renderer: 'canvas'});
chart.setOption(opt);
</script></body></html>
